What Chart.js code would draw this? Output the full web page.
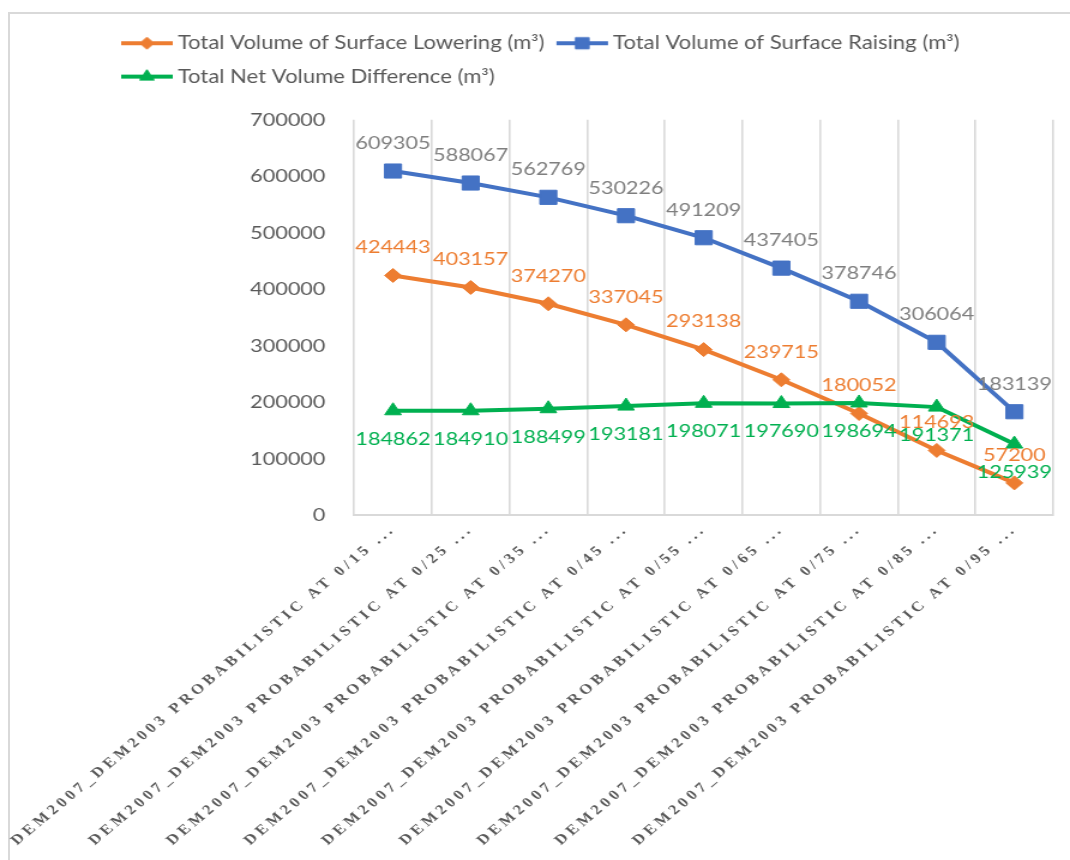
<!DOCTYPE html>
<html>
<head>
<meta charset="utf-8">
<script src="https://cdn.jsdelivr.net/npm/chart.js@4.4.1/dist/chart.umd.min.js"></script>
<style>
  body { margin: 0; background: #fff; }
  #marco { position: absolute; left: 8px; top: 12px; width: 1100px; height: 900px;
           border-left: 2px solid #d9d9d9; border-top: 2px solid #d9d9d9; }
  #grafica { position: absolute; left: 0; top: 0; }
</style>
</head>
<body>
<div id="marco"></div>
<!-- el original esta estirado en horizontal: se dibuja a 892 px y se muestra a 1070 -->
<canvas id="grafica" width="892" height="860" style="width:1070px;height:860px"></canvas>
<script>
// datos
const categorias = [
  "DEM2007_DEM2003 PROBABILISTIC AT 0/15 ...",
  "DEM2007_DEM2003 PROBABILISTIC AT 0/25 ...",
  "DEM2007_DEM2003 PROBABILISTIC AT 0/35 ...",
  "DEM2007_DEM2003 PROBABILISTIC AT 0/45 ...",
  "DEM2007_DEM2003 PROBABILISTIC AT 0/55 ...",
  "DEM2007_DEM2003 PROBABILISTIC AT 0/65 ...",
  "DEM2007_DEM2003 PROBABILISTIC AT 0/75 ...",
  "DEM2007_DEM2003 PROBABILISTIC AT 0/85 ...",
  "DEM2007_DEM2003 PROBABILISTIC AT 0/95 ..."
];
const descenso = [424443, 403157, 374270, 337045, 293138, 239715, 180052, 114693, 57200];
const ascenso = [609305, 588067, 562769, 530226, 491209, 437405, 378746, 306064, 183139];
const diferenciaNeta = [184862, 184910, 188499, 193181, 198071, 197690, 198694, 191371, 125939];
const ticksY = [0, 100000, 200000, 300000, 400000, 500000, 600000, 700000];

const NARANJA = '#ED7D31';
const AZUL = '#4472C4';
const VERDE = '#00B050';
const GRIS = '#595959';
const ESPACIADO = '3.4px';

// escala de categorias con letras espaciadas (como en Excel)
const EscalaCategoria = Chart.registry.getScale('category');
class CategoriaEspaciada extends EscalaCategoria {
  _computeLabelSizes(...args) {
    this.ctx.save();
    this.ctx.letterSpacing = ESPACIADO;
    const r = super._computeLabelSizes(...args);
    this.ctx.restore();
    return r;
  }
  drawLabels(area) {
    this.ctx.save();
    this.ctx.letterSpacing = ESPACIADO;
    super.drawLabels(area);
    this.ctx.restore();
  }
}
CategoriaEspaciada.id = 'categoriaEspaciada';
CategoriaEspaciada.defaults = EscalaCategoria.defaults;
Chart.register(CategoriaEspaciada);

// icono de leyenda: linea con marcador
function crearIcono(color, forma, radio) {
  const c = document.createElement('canvas');
  c.width = 45;
  c.height = 16;
  const g = c.getContext('2d');
  g.strokeStyle = color;
  g.fillStyle = color;
  g.lineWidth = 4;
  g.beginPath();
  g.moveTo(1, 8);
  g.lineTo(44, 8);
  g.stroke();
  g.lineWidth = 1;
  Chart.helpers.drawPoint(g, { pointStyle: forma, radius: radio, borderWidth: 1 }, 22.5, 8);
  return c;
}
const iconos = [
  crearIcono(NARANJA, 'rectRot', 6),
  crearIcono(AZUL, 'rect', 8),
  crearIcono(VERDE, 'triangle', 7)
];

// etiquetas de datos encima / debajo de cada punto
const etiquetas = {
  id: 'etiquetas',
  afterDatasetsDraw(chart) {
    const ctx = chart.ctx;
    ctx.save();
    ctx.font = '18px Lato';
    ctx.textAlign = 'center';
    ctx.textBaseline = 'middle';
    const estilos = [[NARANJA, -28], ['#7F7F7F', -28], [VERDE, 28]];
    chart.data.datasets.forEach((ds, i) => {
      const meta = chart.getDatasetMeta(i);
      meta.data.forEach((pt, j) => {
        ctx.fillStyle = estilos[i][0];
        ctx.fillText(String(ds.data[j]), pt.x, pt.y + estilos[i][1]);
      });
    });
    ctx.restore();
  }
};

// leyenda alineada como en el original
const ajusteLeyenda = {
  id: 'ajusteLeyenda',
  afterInit(chart) {
    const fitOriginal = chart.legend.fit;
    chart.legend.fit = function () {
      fitOriginal.call(this);
      this.height += 24;
    };
  },
  afterLayout(chart) {
    chart.legend.left += 91;
  }
};

const ctx = document.getElementById('grafica').getContext('2d');
const chart = new Chart(ctx, {
  type: 'line',
  data: {
    labels: categorias,
    datasets: [
      {
        label: 'Total Volume of Surface Lowering (m³)',
        data: descenso,
        borderColor: NARANJA,
        backgroundColor: NARANJA,
        pointStyle: 'rectRot',
        pointRadius: 7,
        borderWidth: 4,
        pointBorderWidth: 1,
        order: 1
      },
      {
        label: 'Total Volume of Surface Raising (m³)',
        data: ascenso,
        borderColor: AZUL,
        backgroundColor: AZUL,
        pointStyle: 'rect',
        pointRadius: 10,
        borderWidth: 4,
        pointBorderWidth: 1,
        order: 2
      },
      {
        label: 'Total Net Volume Difference (m³)',
        data: diferenciaNeta,
        borderColor: VERDE,
        backgroundColor: VERDE,
        pointStyle: 'triangle',
        pointRadius: 8,
        borderWidth: 4,
        pointBorderWidth: 1,
        order: 0
      }
    ]
  },
  options: {
    responsive: false,
    animation: false,
    layout: { padding: { top: 19, right: 14, bottom: 5, left: 0 } },
    plugins: {
      legend: {
        position: 'top',
        align: 'start',
        labels: {
          usePointStyle: true,
          pointStyleWidth: 33,
          padding: 15,
          color: GRIS,
          font: { family: 'Lato', size: 18.4 },
          generateLabels(chart) {
            const items = Chart.defaults.plugins.legend.labels.generateLabels(chart);
            items.forEach(it => { it.pointStyle = iconos[it.datasetIndex]; });
            return items.sort((a, b) => a.datasetIndex - b.datasetIndex);
          }
        }
      },
      tooltip: { enabled: false }
    },
    scales: {
      x: {
        type: 'categoriaEspaciada',
        offset: true,
        grid: { offset: true, color: '#d9d9d9', lineWidth: 1.6, drawTicks: false },
        border: { color: '#d9d9d9', width: 2 },
        ticks: {
          autoSkip: false,
          minRotation: 45,
          maxRotation: 45,
          padding: 6,
          color: GRIS,
          font: { family: 'Liberation Serif', weight: 'bold', size: 14 }
        }
      },
      y: {
        min: ticksY[0],
        max: ticksY[ticksY.length - 1],
        grid: { display: false },
        border: { display: false },
        ticks: {
          stepSize: ticksY[1] - ticksY[0],
          padding: 16,
          color: GRIS,
          font: { family: 'Lato', size: 18 },
          callback: v => String(v)
        }
      }
    }
  },
  plugins: [etiquetas, ajusteLeyenda]
});
</script>
</body>
</html>
